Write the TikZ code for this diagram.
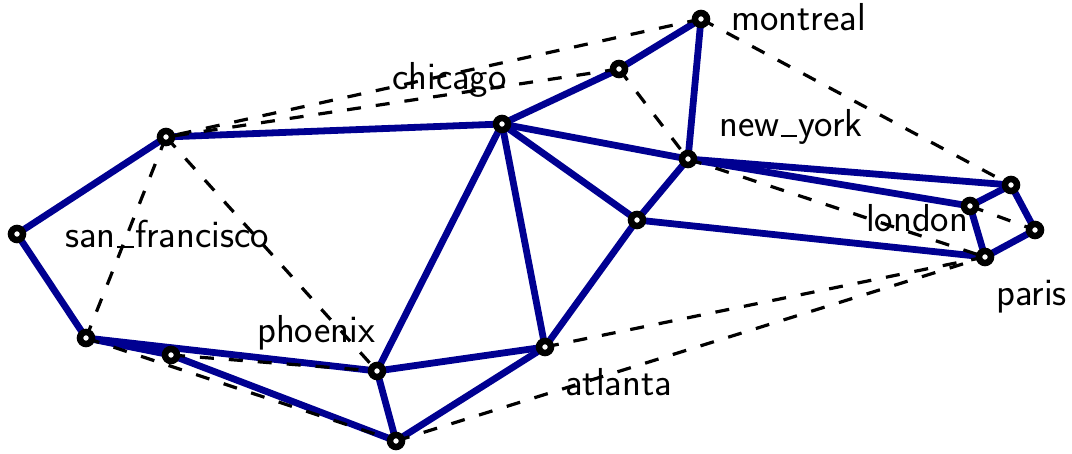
\documentclass[tikz,border=0pt]{standalone}
\usepackage{tikz}
\definecolor{edgeblue}{RGB}{0,0,145}
\newcommand\lowbar{\kern0.04em\rule[-0.01em]{0.42em}{0.055em}\kern0.04em}
\begin{document}
\begin{tikzpicture}[x=1pt,y=-1pt,
  vert/.style={circle,draw=black,fill=white,line width=6.5pt,minimum size=12pt,inner sep=0pt},
  solidedge/.style={draw=edgeblue,line width=6.8pt},
  dashedge/.style={draw=black,line width=3.2pt,dash pattern=on 14pt off 15pt},
  lbl/.style={anchor=base west,inner sep=0pt,font=\sffamily\fontsize{39}{44}\selectfont}]
\useasboundingbox (0,0) rectangle (1072,454);
% labels
\node[lbl] (tmontreal) at (731,31) {montreal};
\node[lbl] (tchicago) at (392,90) {chicago};
\node[lbl] (tnewyork) at (719,137) {new\lowbar york};
\node[lbl] (tlondon) at (866,232) {london};
\node[lbl] (tsf) at (65,248) {san\lowbar francisco};
\node[lbl] (tparis) at (996,306) {paris};
\node[lbl] (tphoenix) at (257,343) {phoenix};
\node[lbl] (tatlanta) at (565,396) {atlanta};
% vertex coordinates
\coordinate (mo) at (701,19);
\coordinate (ch) at (619,69);
\coordinate (c3) at (502,124);
\coordinate (c4) at (166,137);
\coordinate (ny) at (688,159);
\coordinate (c6) at (1011,185);
\coordinate (c7) at (970,206);
\coordinate (c8) at (1035,230);
\coordinate (c9) at (637,220);
\coordinate (c10) at (17,234);
\coordinate (c11) at (985,257);
\coordinate (c12) at (86,338);
\coordinate (c13) at (171,355);
\coordinate (c14) at (545,347);
\coordinate (c15) at (377,371);
\coordinate (c16) at (396,441);
% solid edges
\draw[solidedge] (mo) -- (ch);
\draw[solidedge] (mo) -- (ny);
\draw[solidedge] (ch) -- (c3);
\draw[solidedge] (c3) -- (c4);
\draw[solidedge] (c4) -- (c10);
\draw[solidedge] (c10) -- (c12);
\draw[solidedge] (c3) -- (ny);
\draw[solidedge] (c3) -- (c9);
\draw[solidedge] (c3) -- (c14);
\draw[solidedge] (c3) -- (c15);
\draw[solidedge] (ny) -- (c9);
\draw[solidedge] (ny) -- (c6);
\draw[solidedge] (ny) -- (c7);
\draw[solidedge] (c6) -- (c7);
\draw[solidedge] (c6) -- (c8);
\draw[solidedge] (c7) -- (c11);
\draw[solidedge] (c8) -- (c11);
\draw[solidedge] (c9) -- (c11);
\draw[solidedge] (c9) -- (c14);
\draw[solidedge] (c14) -- (c15);
\draw[solidedge] (c14) -- (c16);
\draw[solidedge] (c15) -- (c16);
\draw[solidedge] (c12) -- (c15);
\draw[solidedge] (c12) -- (c13);
\draw[solidedge] (c13) -- (c16);
% dashed edges
\draw[dashedge] (mo) -- (c4);
\draw[dashedge] (ch) -- (c4);
\draw[dashedge] (mo) -- (c6);
\draw[dashedge] (ch) -- (ny);
\draw[dashedge] (ny) -- (c11);
\draw[dashedge] (c7) -- (c8);
\draw[dashedge] (c4) -- (c12);
\draw[dashedge] (c4) -- (c15);
\draw[dashedge] (c12) -- (c16);
\draw[dashedge] (c13) -- (c15);
\draw[dashedge] (c14) -- (c11);
\draw[dashedge] (c16) -- (c11);
% vertices
\foreach \v in {mo,ch,c3,c4,ny,c6,c7,c8,c9,c10,c11,c12,c13,c14,c15,c16}
  \node[vert] (n\v) at (\v) {};
\end{tikzpicture}
\end{document}
